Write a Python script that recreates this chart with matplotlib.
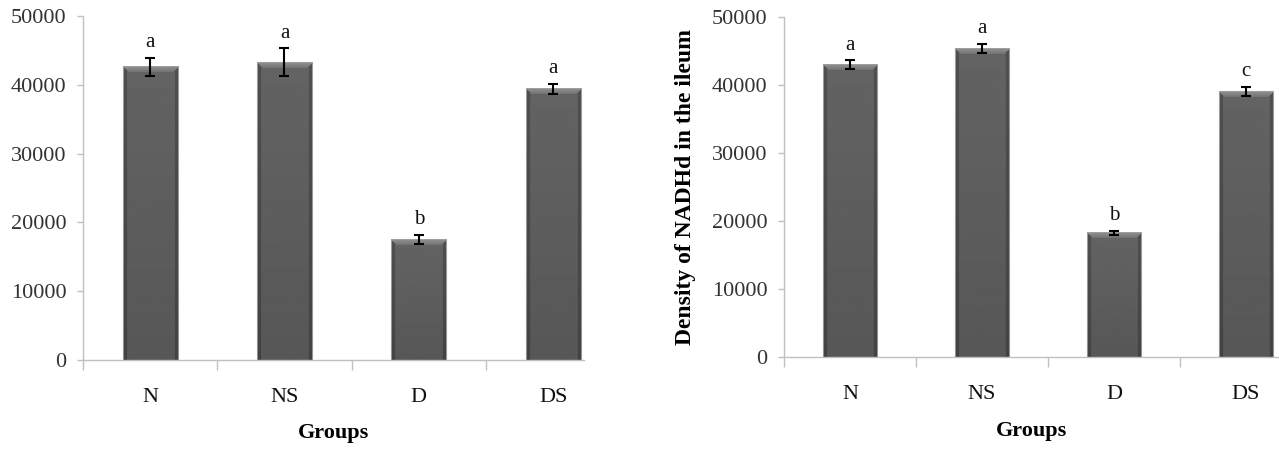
import numpy as np
import matplotlib
matplotlib.use('Agg')
import matplotlib.pyplot as plt
from matplotlib.ticker import FixedLocator, NullFormatter

groups = ['N', 'NS', 'D', 'DS']

# left panel
left_vals = [42600, 43300, 17500, 39400]
left_err = [1300, 2000, 650, 750]
left_letters = ['a', 'a', 'b', 'a']

# right panel
right_vals = [43000, 45400, 18300, 39100]
right_err = [650, 700, 250, 700]
right_letters = ['a', 'a', 'b', 'c']

y_ticks = [0, 10000, 20000, 30000, 40000, 50000]

plt.rcParams['font.family'] = ['Liberation Serif', 'DejaVu Serif']


def shade_bar(ax, bar):
    # fake the beveled look of the original bars with a clipped gradient
    x0, y0 = bar.get_x(), bar.get_y()
    x1, y1 = x0 + bar.get_width(), y0 + bar.get_height()
    (px0, py0), (px1, py1) = ax.transData.transform([(x0, y0), (x1, y1)])
    nx = max(int(px1 - px0), 2)
    ny = max(int(py1 - py0), 2)
    img = np.full((ny, nx), 0.39)
    cols = np.arange(nx)
    side = np.minimum(cols, nx - 1 - cols)
    img[:, side < 4] = 0.31
    img[:, side < 1] = 0.62
    rows = np.arange(ny)
    img += (-0.05 * rows / ny)[:, None]
    for r in range(min(6, ny)):
        lo, hi = r, nx - r
        img[r, lo:hi] = 0.56 - 0.02 * r
    img[0, :] = 0.62
    ax.imshow(img, cmap='gray', vmin=0, vmax=1, extent=(x0, x1, y0, y1),
              aspect='auto', origin='upper', clip_path=bar, zorder=2.1,
              interpolation='bilinear')


def draw_panel(ax, vals, err, letters, xmax, ylabel=None):
    x = np.arange(len(groups))
    bars = ax.bar(x, vals, width=0.41, color='#636363', edgecolor='#9a9a9a',
                  linewidth=0.8, zorder=2)
    ax.set_xlim(-0.5, xmax)
    ax.set_ylim(0, 50000)
    for b in bars:
        shade_bar(ax, b)
    ax.set_xlim(-0.5, xmax)
    ax.set_ylim(0, 50000)
    ax.errorbar(x, vals, yerr=err, fmt='none', ecolor='black', elinewidth=1.5,
                capsize=3.5, capthick=1.5, zorder=3)
    for xi, v, e, t in zip(x, vals, err, letters):
        ax.annotate(t, (xi, v + e), xytext=(0, 11), textcoords='offset points',
                    ha='center', va='center', fontsize=15, color='#111111')

    for s in ['top', 'right']:
        ax.spines[s].set_visible(False)
    for s in ['left', 'bottom']:
        ax.spines[s].set_color('#c0c0c0')
        ax.spines[s].set_linewidth(1.0)

    ax.set_yticks(y_ticks)
    ax.set_yticklabels([str(t) for t in y_ticks])
    ax.tick_params(axis='y', length=4, width=1, color='#c0c0c0',
                   labelsize=16, labelcolor='#333333', pad=8)
    ax.set_xticks(x)
    ax.set_xticklabels(groups)
    ax.tick_params(axis='x', which='major', length=0, labelsize=16,
                   labelcolor='#111111', pad=20)
    ax.xaxis.set_minor_locator(FixedLocator(np.arange(-0.5, len(groups), 1.0)))
    ax.xaxis.set_minor_formatter(NullFormatter())
    ax.tick_params(axis='x', which='minor', length=7, width=1, color='#c0c0c0',
                   direction='out')
    ax.set_xlabel('Groups', fontsize=16, fontweight='bold', labelpad=12)
    if ylabel:
        ax.set_ylabel(ylabel, fontsize=17, fontweight='bold', labelpad=11)


fig = plt.figure(figsize=(12.79, 4.53), dpi=100)
ax1 = fig.add_axes([0.0649, 0.2053, 0.3917, 0.7594])
ax2 = fig.add_axes([0.613, 0.2113, 0.387, 0.7506])

draw_panel(ax1, left_vals, left_err, left_letters, 3.23)
draw_panel(ax2, right_vals, right_err, right_letters, 3.25,
           ylabel='Density of NADHd in the ileum')

fig.savefig('out.png', dpi=100)
